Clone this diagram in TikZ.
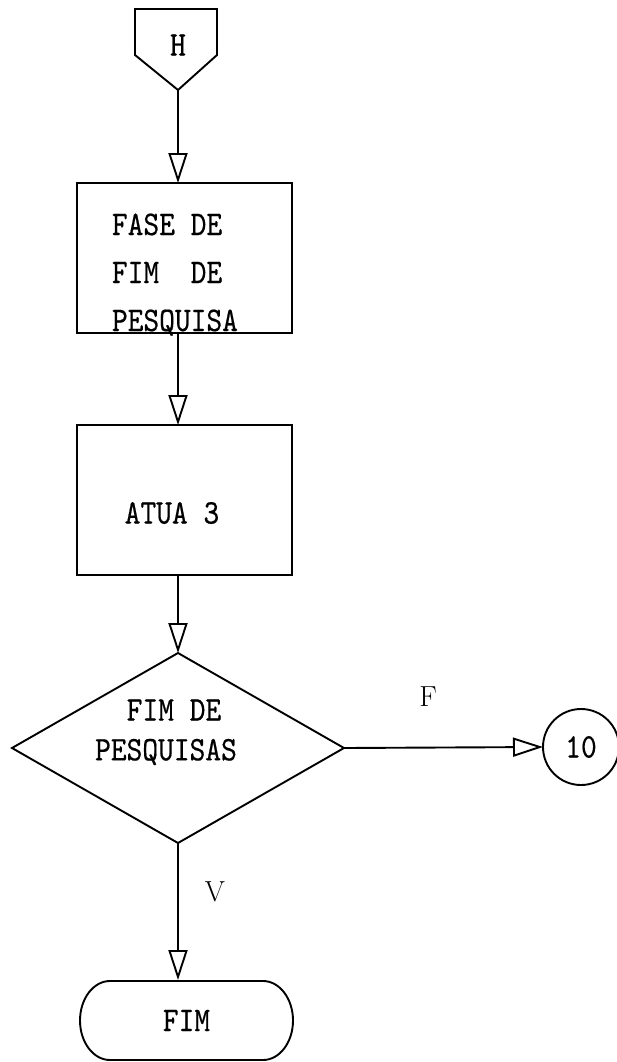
\documentclass[tikz,border=0pt]{standalone}
\usepackage{fontspec}
\newfontfamily\typew{lmmono10-regular.otf}[FakeBold=0.5]
\usetikzlibrary{arrows.meta,shapes.geometric}
\newcommand{\tall}[1]{\scalebox{1}[1.15]{#1}}
\begin{document}
\begin{tikzpicture}[x=1pt,y=-1pt,line width=1.9pt,line join=miter,
  flow/.style={-{Triangle[open,length=30pt,width=19pt]}},
  txt/.style={font=\fontsize{30}{31}\selectfont\typew,inner sep=0pt},
  lab/.style={font=\fontsize{29}{30}\selectfont\rmfamily,inner sep=0pt},
  procbox/.style={draw,rectangle,minimum width=215pt,minimum height=150pt,inner sep=0pt,outer sep=0pt}]
\useasboundingbox (0,0) rectangle (616,1062);
% connector H
\draw (135,9) -- (217,9) -- (217,55) -- (178,90) -- (135,55) -- cycle;
\coordinate (Htip) at (178,90);
\node[txt] (H) at (178,45) {\tall{H}};
% box 1
\node[procbox] (box1) at (184.5,258) {};
\node[txt,anchor=base west] (t1) at (111,235) {\tall{FASE DE}};
\node[txt,anchor=base west] (t2) at (111,283) {\tall{FIM~~DE}};
\node[txt,anchor=base west] (t3) at (111,331) {\tall{PESQUISA}};
% box 2
\node[procbox] (box2) at (184.5,500) {};
\node[txt] (t4) at (172,513) {\tall{ATUA 3}};
% decision
\node[draw,diamond,minimum width=332pt,minimum height=190pt,inner sep=0pt,outer sep=0pt] (dec) at (178,748) {};
\node[txt] (t5) at (174,710) {\tall{FIM DE}};
\node[txt] (t6) at (166,752) {\tall{PESQUISAS}};
% connector 10
\node[draw,circle,minimum size=76pt,inner sep=0pt,outer sep=0pt,txt] (c10) at (581,747) {\tall{10}};
% terminal
\node[txt,minimum width=213pt,minimum height=79pt] (fim) at (186.5,1020.5) {\tall{FIM}};
\draw (110,981) -- (263,981) .. controls (279.6,981) and (293,998.7) .. (293,1020.5)
  .. controls (293,1042.3) and (279.6,1060) .. (263,1060) -- (110,1060)
  .. controls (93.4,1060) and (80,1042.3) .. (80,1020.5)
  .. controls (80,998.7) and (93.4,981) .. (110,981) -- cycle;
% arrows
\draw[flow] (Htip) -- (box1.north -| Htip);
\draw[flow] (box1.south -| Htip) -- (box2.north -| Htip);
\draw[flow] (box2.south -| dec.north) -- (dec.north);
\draw[flow] (dec.east) -- (c10.west);
\draw[flow] (dec.south) -- (fim.north -| dec.south);
% labels
\node[lab] (F) at (428,697) {F};
\node[lab] (V) at (215,892) {V};
\end{tikzpicture}
\end{document}
